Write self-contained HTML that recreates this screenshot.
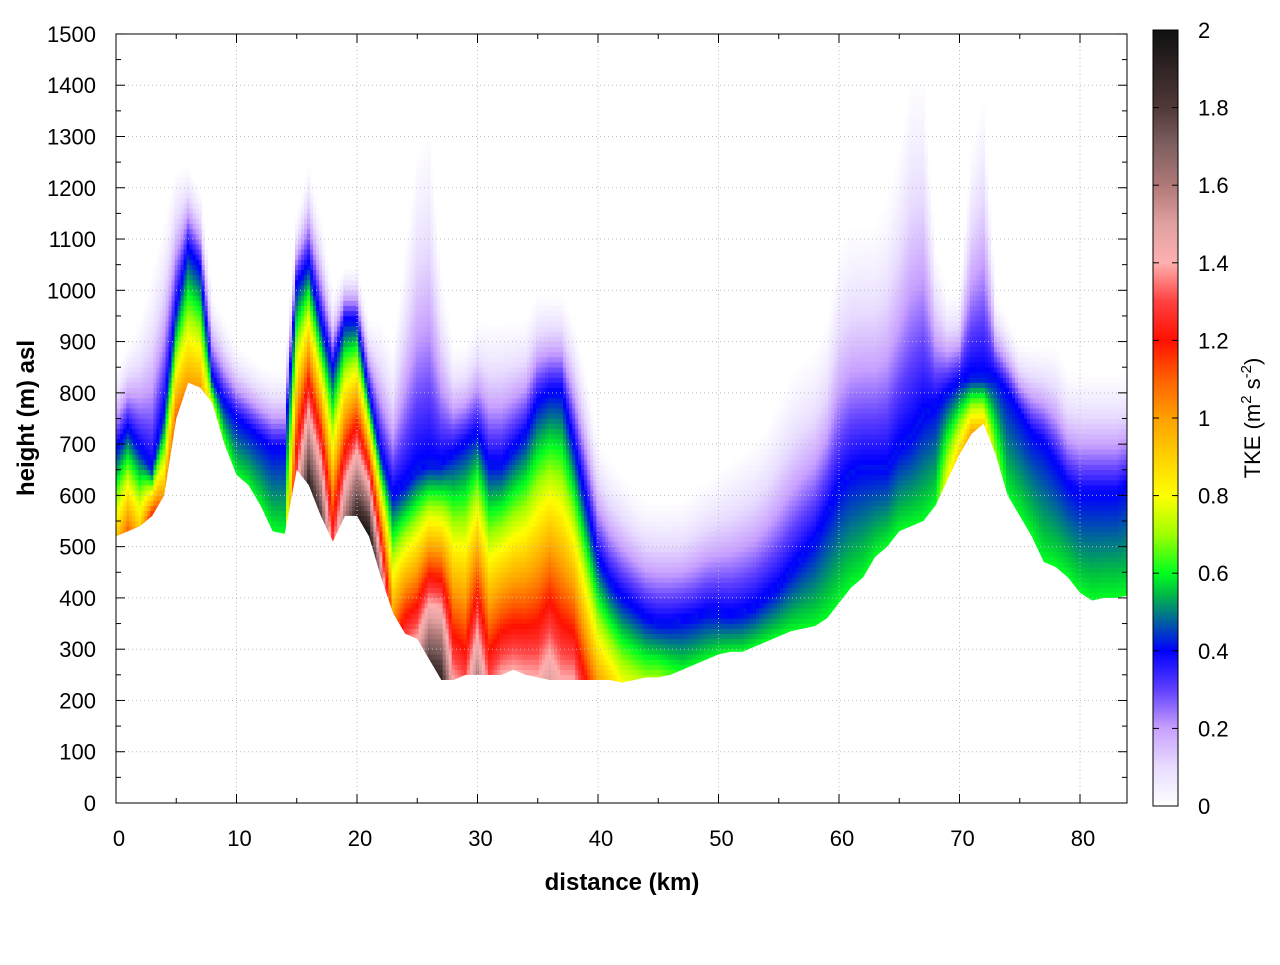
<!DOCTYPE html>
<html><head><meta charset="utf-8"><style>
body{margin:0;background:#fff;}
svg text{font-family:"Liberation Sans",sans-serif;font-size:22px;fill:#000;}
</style></head><body>
<svg id="c" width="1280" height="960" xmlns="http://www.w3.org/2000/svg">
<defs>
<clipPath id="plotclip"><rect x="116" y="34" width="1011" height="769"/></clipPath>
<linearGradient id="cbgrad" x1="0" y1="1" x2="0" y2="0"></linearGradient>
</defs>
<g id="cells" clip-path="url(#plotclip)"></g>
<g id="grid"></g>
<rect x="116" y="34" width="1011" height="769" fill="none" stroke="#000" stroke-width="1"/>
<g id="axes"></g>
<rect x="1153" y="30" width="25" height="776" fill="url(#cbgrad)" stroke="#000" stroke-width="1"/>
<g id="cbticks"></g>
<text x="622" y="890" text-anchor="middle" font-weight="bold" style="font-size:24px">distance (km)</text>
<text transform="translate(34,418) rotate(-90)" text-anchor="middle" font-weight="bold" style="font-size:24px">height (m) asl</text>
<text transform="translate(1260,418) rotate(-90)" text-anchor="middle">TKE (m<tspan dy="-9" style="font-size:15px">2</tspan><tspan dy="9"> s</tspan><tspan dy="-9" style="font-size:15px">-2</tspan><tspan dy="9">)</tspan></text>
</svg>
<script>
const distances=[];for(let i=0;i<=84;i++)distances.push(i);
const terrain=[520,530,540,560,600,750,820,810,780,700,640,620,580,530,525,650,620,560,510,560,560,520,440,370,330,320,280,240,240,250,250,250,250,260,250,245,240,240,240,240,240,240,235,240,245,245,250,260,270,280,290,295,295,305,315,325,335,340,345,360,390,420,440,480,500,530,540,550,580,630,680,720,740,680,600,560,520,470,460,440,410,395,400,400,405];
const surfaceTke=[0.9,1.1,0.9,1.2,1.0,1.1,1.0,1.0,0.75,0.65,0.6,0.6,0.6,0.6,0.6,1.3,1.9,1.8,1.3,1.6,1.9,2.0,1.6,1.0,1.3,1.4,1.8,1.9,1.4,1.3,1.6,1.3,1.4,1.4,1.4,1.4,1.5,1.4,1.4,1.2,1.0,0.9,0.8,0.75,0.7,0.7,0.65,0.6,0.6,0.6,0.6,0.6,0.6,0.6,0.6,0.6,0.6,0.6,0.6,0.6,0.6,0.6,0.6,0.6,0.6,0.6,0.6,0.6,0.6,0.8,0.9,1.0,0.9,0.7,0.6,0.6,0.6,0.6,0.6,0.6,0.6,0.6,0.6,0.6,0.6];
const blTop=[690,730,690,650,760,960,1080,1040,830,780,750,730,710,690,690,1010,1050,940,850,940,940,800,680,600,620,650,660,660,680,700,720,660,660,690,720,780,800,800,700,590,480,430,400,380,360,350,350,355,360,370,370,365,370,380,400,420,450,480,510,560,610,640,650,650,650,690,710,750,770,800,820,830,830,830,800,760,720,700,660,620,600,600,600,600,620];
const topExtent=[850,900,950,1050,1150,1250,1250,1200,1000,950,900,880,860,850,850,1150,1250,1150,1000,1050,1050,950,950,900,1100,1300,1350,1050,900,900,950,950,950,950,950,1000,1000,1000,950,850,720,680,650,620,600,600,600,600,620,640,660,680,700,720,750,800,850,880,900,950,1100,1150,1150,1150,1200,1300,1450,1450,1100,1000,1000,1300,1400,1000,950,900,900,900,900,850,850,850,850,850,850];
const xTicks=[0,10,20,30,40,50,60,70,80];
const yTicks=[0,100,200,300,400,500,600,700,800,900,1000,1100,1200,1300,1400,1500];
const cbTicks=[0,0.2,0.4,0.6,0.8,1,1.2,1.4,1.6,1.8,2];
const cmapVals=[0,0.1,0.2,0.3,0.4,0.5,0.55,0.6,0.7,0.8,0.9,1.0,1.1,1.2,1.3,1.4,1.5,1.6,1.7,1.8,2.0];
const cmapCols=['#ffffff','#e8dcff','#c8a0ff','#6040ff','#0000ff','#008080','#00c040','#00ff20','#a0ff00','#ffff00','#ffd000','#ffa000','#ff6000','#ff1000','#ff4040','#ffb0b0','#e0a0a0','#b07878','#806060','#503838','#101010'];

const X=d=>116+d*12.05, Y=h=>803-h*0.5127;
const NS='http://www.w3.org/2000/svg';
function mk(t,a,p){const e=document.createElementNS(NS,t);for(const k in a)e.setAttribute(k,a[k]);p.appendChild(e);return e;}
function hex(c){return [1,3,5].map(i=>parseInt(c.substr(i,2),16));}
function color(v){v=Math.max(0,Math.min(2,v));let i=0;while(i<cmapVals.length-2&&v>cmapVals[i+1])i++;
 const t=(v-cmapVals[i])/(cmapVals[i+1]-cmapVals[i]);const a=hex(cmapCols[i]),b=hex(cmapCols[i+1]);
 return 'rgb('+a.map((x,k)=>Math.round(x+(b[k]-x)*t)).join(',')+')';}
function lerpArr(arr,d){const i=Math.min(83,Math.floor(d)),t=d-i;return arr[i]+(arr[i+1]-arr[i])*t;}
function tkeAt(d,h){const g=lerpArr(terrain,d),s=lerpArr(surfaceTke,d),b=Math.max(lerpArr(blTop,d),g+30),top=Math.max(lerpArr(topExtent,d),b+50);
 if(h<g-30)return null; if(h<=b)return s+(0.4-s)*Math.max(0,h-g)/(b-g);
 if(h<=top){const f=(h-b)/(top-b);return 0.42*Math.pow(1-f,1.5);} return 0;}
const cells=document.getElementById('cells');
let pts=distances.map((d,i)=>X(d)+','+Y(terrain[i])).join(' ');
const cp=mk('clipPath',{id:'terr'},document.querySelector('defs'));
mk('polygon',{points:X(0)+','+Y(1600)+' '+pts+' '+X(84)+','+Y(1600)},cp);
const inner=mk('g',{'clip-path':'url(#terr)'},cells);
const dh=10, dd=0.25;
for(let d=0;d<=84;d+=dd){
 for(let h=200;h<1500;h+=dh){
  const v=tkeAt(d,h+dh/2);if(v===null||v<=0.005)continue;
  const r=mk('rect',{x:X(d-dd/2)-0.2,y:Y(h+dh)-0.3,width:dd*12.05+0.4,height:dh*0.5127+0.6,fill:color(v)},inner);
  
  
 }
}
const grid=document.getElementById('grid'),axes=document.getElementById('axes');
xTicks.forEach(t=>{
 if(t>0){const l=mk('line',{x1:X(t),x2:X(t),y1:34,y2:803,stroke:'#bbb','stroke-dasharray':'1,3'},grid);}
 const tx=mk('text',{x:X(t)+3,y:846,'text-anchor':'middle'},axes);tx.textContent=t;
 
});
for(let t=0;t<=84;t+=5){const len=(t%10==0)?9:5;mk('line',{x1:X(t),x2:X(t),y1:803,y2:803-len,stroke:'#000'},axes);mk('line',{x1:X(t),x2:X(t),y1:34,y2:34+len,stroke:'#000'},axes);}
yTicks.forEach(t=>{
 if(t>0&&t<1500){const l=mk('line',{x1:116,x2:1127,y1:Y(t),y2:Y(t),stroke:'#bbb','stroke-dasharray':'1,3'},grid);}
 const tx=mk('text',{x:96,y:Y(t)+8,'text-anchor':'end'},axes);tx.textContent=t;
 
});
for(let t=0;t<=1500;t+=50){const len=(t%100==0)?9:5;mk('line',{x1:116,x2:116+len,y1:Y(t),y2:Y(t),stroke:'#000'},axes);mk('line',{x1:1127,x2:1127-len,y1:Y(t),y2:Y(t),stroke:'#000'},axes);}
const grad=document.getElementById('cbgrad');
cmapVals.forEach((v,i)=>mk('stop',{offset:(v/2*100)+'%','stop-color':cmapCols[i]},grad));
const cbt=document.getElementById('cbticks');
cbTicks.forEach(t=>{const y=806-t/2*776;
 mk('line',{x1:1153,x2:1159,y1:y,y2:y,stroke:'#000'},cbt);mk('line',{x1:1178,x2:1172,y1:y,y2:y,stroke:'#000'},cbt);
 const tx=mk('text',{x:1198,y:y+8},cbt);tx.textContent=t;
 });
</script>
</body></html>
